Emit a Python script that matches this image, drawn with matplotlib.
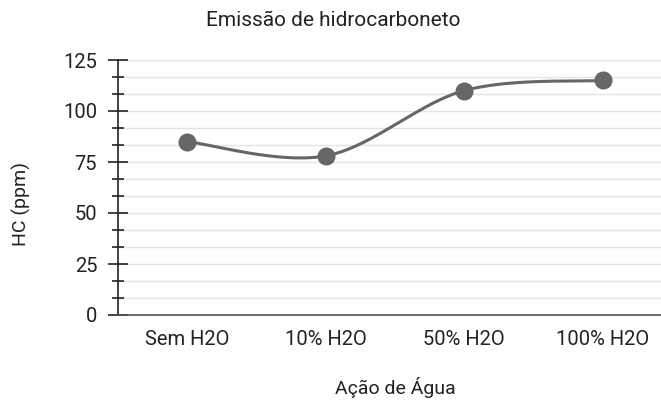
import numpy as np
import matplotlib
matplotlib.use("Agg")
import matplotlib.pyplot as plt
from matplotlib.ticker import MultipleLocator

categories = ["Sem H2O", "10% H2O", "50% H2O", "100% H2O"]
hc_values = [85, 78, 110, 115]
y_ticks = [0, 25, 50, 75, 100, 125]

plt.rcParams['font.family'] = ['Roboto', 'DejaVu Sans']
FS = 14.5

W, H = 661, 401
fig = plt.figure(figsize=(W / 100, H / 100), dpi=100)
ax = fig.add_axes([118 / W, (H - 315) / H, 554 / W, 255 / H])
ax.set_xlim(-0.5, len(categories) - 0.5)
ax.set_ylim(0, 125)

# smooth curve (cardinal spline through the points)
x = np.arange(len(categories), dtype=float)
y = np.array(hc_values, dtype=float)
px = np.concatenate([[x[0]], x, [x[-1]]])
py = np.concatenate([[y[0]], y, [y[-1]]])
t = np.linspace(0, 1, 60)
cx, cy = [], []
for i in range(len(x) - 1):
    p0x, p1x, p2x, p3x = px[i], px[i + 1], px[i + 2], px[i + 3]
    p0y, p1y, p2y, p3y = py[i], py[i + 1], py[i + 2], py[i + 3]
    k = 0.5
    m1x, m1y = k * (p2x - p0x), k * (p2y - p0y)
    m2x, m2y = k * (p3x - p1x), k * (p3y - p1y)
    h00 = 2 * t**3 - 3 * t**2 + 1
    h10 = t**3 - 2 * t**2 + t
    h01 = -2 * t**3 + 3 * t**2
    h11 = t**3 - t**2
    cx.append(h00 * p1x + h10 * m1x + h01 * p2x + h11 * m2x)
    cy.append(h00 * p1y + h10 * m1y + h01 * p2y + h11 * m2y)
cx = np.concatenate(cx)
cy = np.concatenate(cy)

ax.plot(cx, cy, color='#666666', lw=2.2, solid_capstyle='round', zorder=3, clip_on=False)
ax.plot(x, y, 'o', color='#666666', ms=13, mec='none', zorder=4, clip_on=False)

ax.yaxis.set_major_locator(MultipleLocator(25))
ax.yaxis.set_minor_locator(MultipleLocator(25 / 3))
ax.set_yticks(y_ticks)
ax.grid(True, which='both', axis='y', color='#e3e3e3', lw=1, zorder=0)
ax.set_axisbelow(True)

ax.set_xticks(x)
ax.set_xticklabels(categories)
ax.tick_params(axis='x', length=0, pad=11, labelsize=FS, labelcolor='#222222')
ax.tick_params(axis='y', which='major', direction='inout', length=14, width=1.2,
               color='#222222', labelsize=FS, labelcolor='#222222', pad=8)
ax.tick_params(axis='y', which='minor', direction='inout', length=8, width=1.2, color='#222222')

for s in ['top', 'right']:
    ax.spines[s].set_visible(False)
ax.spines['left'].set_color('#222222')
ax.spines['left'].set_linewidth(1.2)
ax.spines['bottom'].set_color('#555555')
ax.spines['bottom'].set_linewidth(1.2)

fig.text(333 / W, 1 - 20 / H, "Emissão de hidrocarboneto", ha='center', va='center',
         fontsize=FS + 0.5, color='#222222')
fig.text(395 / W, 1 - 388 / H, "Ação de Água", ha='center', va='center',
         fontsize=14, color='#222222')
fig.text(21 / W, 1 - 204 / H, "HC (ppm)", ha='center', va='center', rotation=90,
         fontsize=14, color='#222222')

fig.savefig("out.png", dpi=100)
